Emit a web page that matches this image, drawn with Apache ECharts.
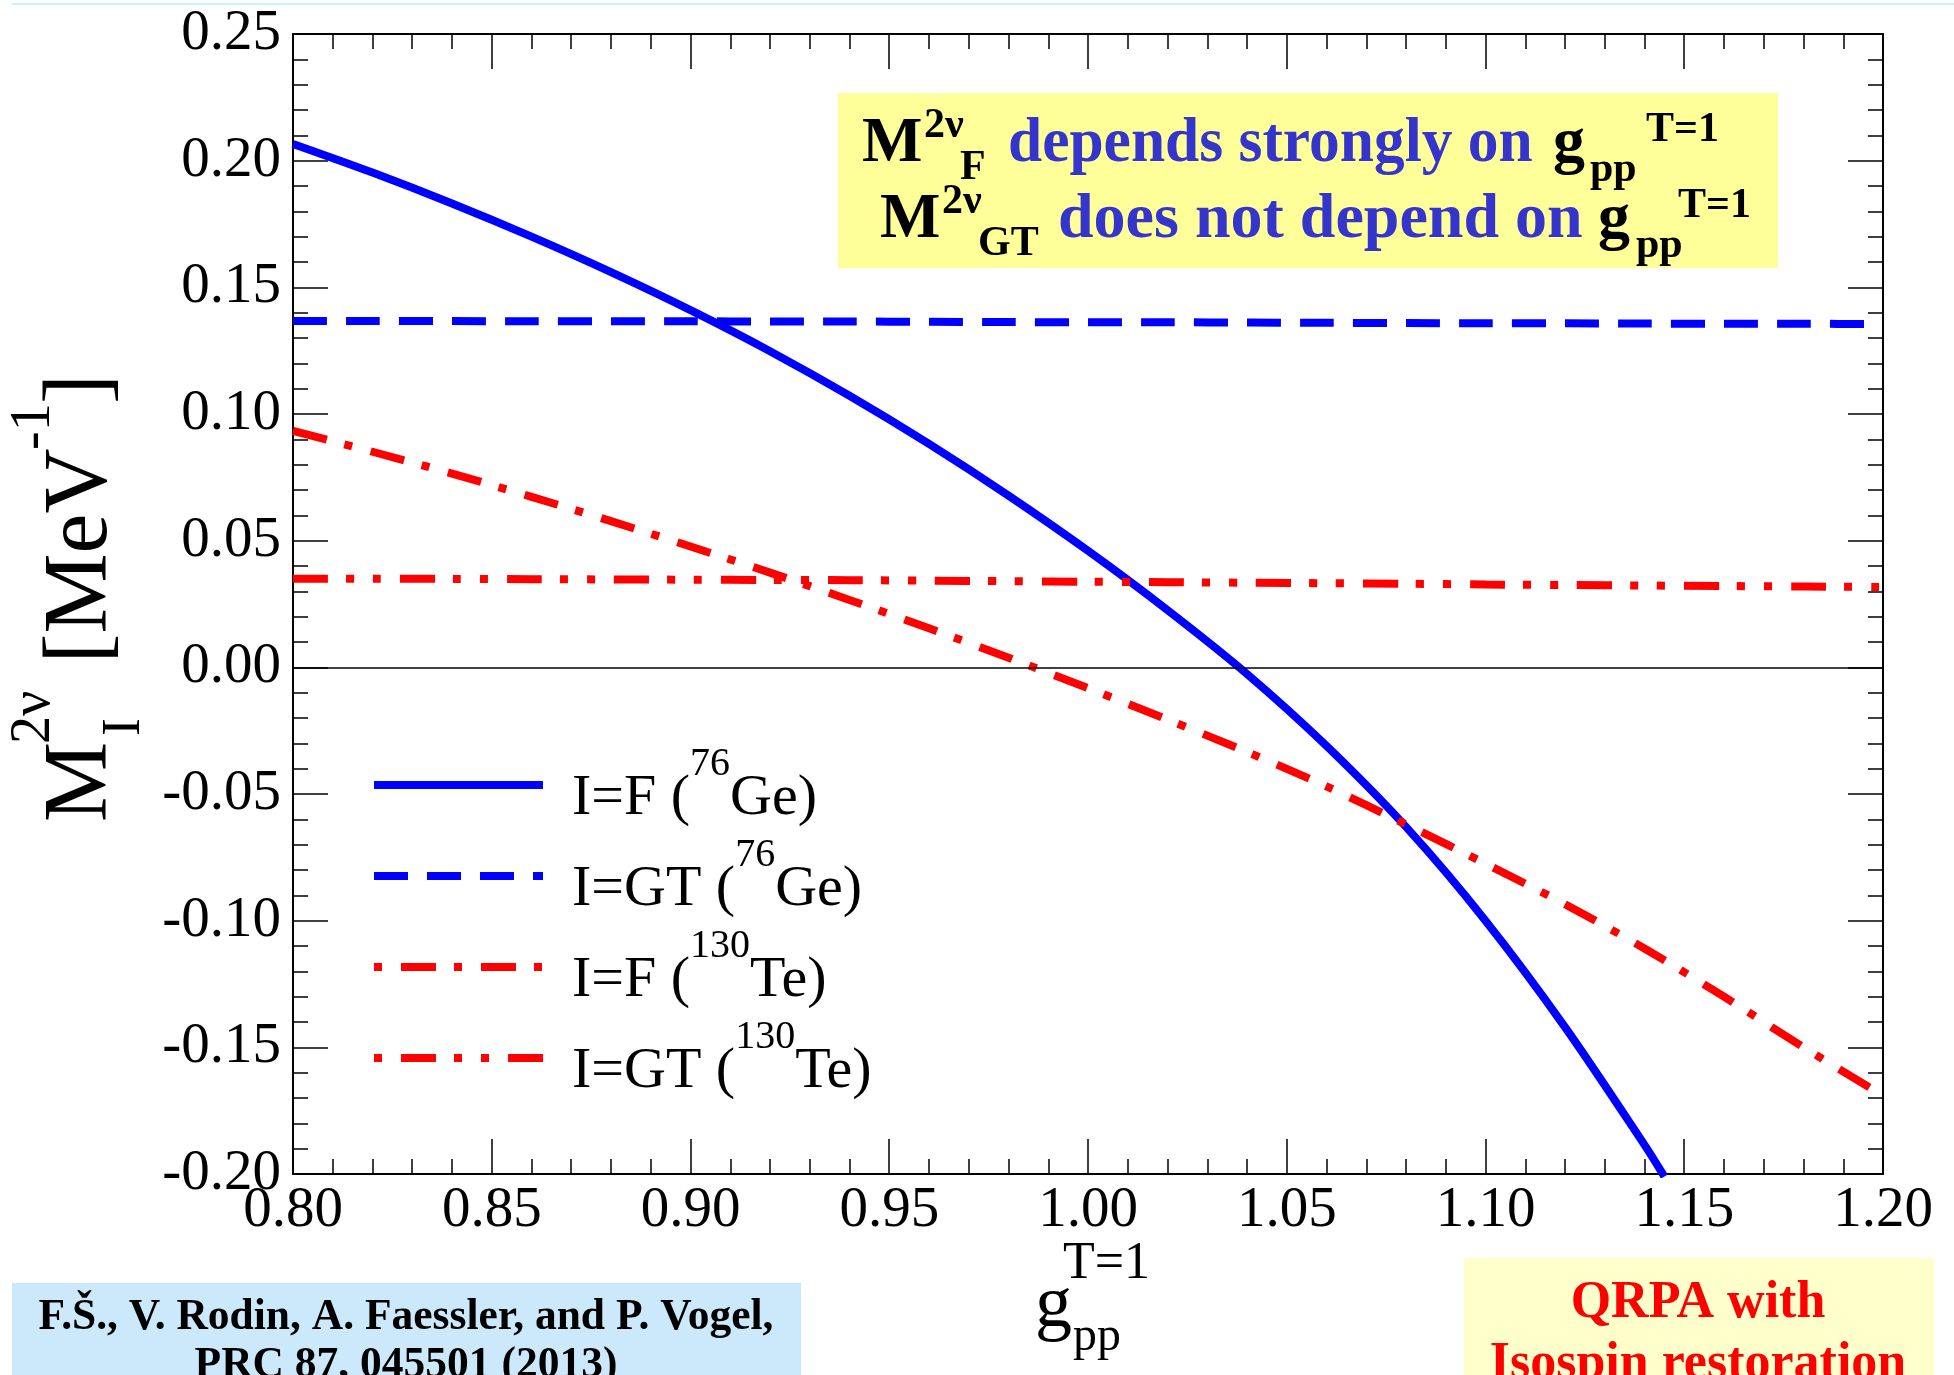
<!DOCTYPE html>
<html>
<head>
<meta charset="utf-8">
<title>M2nu vs gpp T=1</title>
<script src="https://cdn.jsdelivr.net/npm/echarts@6/dist/echarts.min.js"></script>
<style>
html, body { margin: 0; padding: 0; background: #fff; }
#main { width: 1954px; height: 1375px; }
</style>
</head>
<body>
<div id="main"></div>
<script>
// g_pp^{T=1} grid
var gGrid = [0.80, 0.82, 0.84, 0.86, 0.88, 0.90, 0.92, 0.94, 0.96, 0.98, 1.00,
             1.02, 1.04, 1.06, 1.08, 1.10, 1.12, 1.14, 1.16, 1.18, 1.20];
// I=F (76Ge) stops when it leaves the frame
var gF76 = [0.80, 0.82, 0.84, 0.86, 0.88, 0.90, 0.92, 0.94, 0.96, 0.98, 1.00,
            1.02, 1.04, 1.06, 1.08, 1.10, 1.12, 1.14, 1.145];
var mF76 = [0.2066, 0.1953, 0.1831, 0.1700, 0.1560, 0.1410, 0.1248, 0.1072, 0.0882, 0.0678, 0.0460,
            0.0226, -0.0026, -0.0310, -0.0630, -0.1000, -0.1420, -0.1885, -0.2010];
var mGT76 = [0.1367, 0.1367, 0.1367, 0.1366, 0.1366, 0.1366, 0.1365, 0.1365, 0.1364, 0.1363, 0.1362,
             0.1362, 0.1361, 0.1360, 0.1359, 0.1358, 0.1358, 0.1357, 0.1356, 0.1356, 0.1355];
var mF130 = [0.0933, 0.0851, 0.0765, 0.0673, 0.0577, 0.0477, 0.0374, 0.0266, 0.0154, 0.0038, -0.0082,
             -0.0206, -0.0334, -0.0470, -0.0620, -0.0775, -0.0935, -0.1110, -0.1300, -0.1500, -0.1690];
var mGT130 = [0.0350, 0.0350, 0.0349, 0.0348, 0.0347, 0.0346, 0.0345, 0.0344, 0.0342, 0.0340, 0.0338,
              0.0336, 0.0334, 0.0332, 0.0330, 0.0327, 0.0325, 0.0323, 0.0321, 0.0319, 0.0317];

var seriesNames = ['I=F (76Ge)', 'I=GT (76Ge)', 'I=F (130Te)', 'I=GT (130Te)'];
var legendHead = ['I=F (', 'I=GT (', 'I=F (', 'I=GT ('];
var legendMass = ['76', '76', '130', '130'];
var legendElem = ['Ge)', 'Ge)', 'Te)', 'Te)'];
var seriesColors = ['#0000ff', '#0000ff', '#ff0000', '#ff0000'];
var seriesDash = [[], [34, 19], [35, 18, 8, 19], [35, 18, 8, 19, 8, 19]];
var keyDashOffset = [0, 0, 53, 80];

var FONT = '"Liberation Serif"';

function pairs(xs, ys) {
    return xs.map(function (x, i) { return [x, ys[i]]; });
}

// text placed by its baseline
function txt(x, base, str, size, color, weight, align, sx) {
    var el = {
        type: 'text', x: x, y: base - 0.34 * size, silent: true,
        style: {
            text: str,
            font: (weight || 'normal') + ' ' + size + 'px ' + FONT,
            fill: color || '#000',
            align: align || 'left',
            verticalAlign: 'middle'
        }
    };
    if (sx) el.scaleX = sx;
    return el;
}

var tickLabel = {
    color: '#000',
    fontSize: 57,
    fontFamily: 'Liberation Serif',
    formatter: function (v) { return Math.abs(v) < 1e-9 ? '0.00' : v.toFixed(2); }
};

function xAx(pos, showLabel) {
    return {
        type: 'value', min: 0.8, max: 1.2, interval: 0.05, position: pos,
        axisLine: { onZero: false, lineStyle: { color: '#000', width: 2 } },
        axisTick: { inside: true, length: 35, lineStyle: { color: '#000', width: 1.5 } },
        minorTick: { show: true, splitNumber: 5, length: 15, lineStyle: { color: '#000', width: 1.5 } },
        splitLine: { show: false },
        axisLabel: showLabel ? Object.assign({ margin: 9 }, tickLabel) : { show: false }
    };
}

function yAx(pos, showLabel) {
    return {
        type: 'value', min: -0.2, max: 0.25, interval: 0.05, position: pos,
        axisLine: { onZero: false, lineStyle: { color: '#000', width: 2 } },
        axisTick: { inside: true, length: 35, lineStyle: { color: '#000', width: 1.5 } },
        minorTick: { show: true, splitNumber: 5, length: 15, lineStyle: { color: '#000', width: 1.5 } },
        splitLine: { show: false },
        axisLabel: showLabel ? Object.assign({ margin: 12 }, tickLabel) : { show: false }
    };
}

function curve(i, data) {
    return {
        name: seriesNames[i], type: 'line', data: data,
        xAxisIndex: 0, yAxisIndex: 0,
        symbol: 'none', showSymbol: false, smooth: 0.3,
        clip: true,
        lineStyle: { color: seriesColors[i], width: 8, type: seriesDash[i].length ? seriesDash[i] : 'solid' },
        itemStyle: { color: seriesColors[i] },
        z: 3
    };
}

// legend keys: drawn as plain line samples left of the legend labels
var legendRowY = [785, 876, 967, 1058];
var legendKeys = legendRowY.map(function (y, i) {
    return {
        type: 'line', silent: true,
        shape: { x1: 374, y1: y, x2: 543, y2: y },
        style: {
            stroke: seriesColors[i], lineWidth: 8,
            lineDash: seriesDash[i].length ? seriesDash[i] : null,
            lineDashOffset: keyDashOffset[i]
        }
    };
});

var myChart = echarts.init(document.getElementById('main'));

var option = {
    animation: false,
    backgroundColor: '#fff',
    grid: {
        left: 293, top: 34, width: 1590, height: 1140,
        containLabel: false, outerBoundsMode: 'none'
    },
    xAxis: [xAx('bottom', true), xAx('top', false)],
    yAxis: [yAx('left', true), yAx('right', false)],
    legend: {
        data: seriesNames,
        orient: 'vertical',
        left: 374, top: 744,
        padding: 0,
        icon: 'rect',
        itemWidth: 169, itemHeight: 8, itemGap: 7,
        itemStyle: { opacity: 0 },
        selectedMode: false,
        formatter: function (name) {
            var i = seriesNames.indexOf(name);
            return '{h|' + legendHead[i] + '}{s|' + legendMass[i] + '}{n|' + legendElem[i] + '}';
        },
        textStyle: {
            color: '#000',
            fontFamily: 'Liberation Serif',
            fontSize: 58,
            rich: {
                h: { fontSize: 58, lineHeight: 84, verticalAlign: 'bottom', fontFamily: 'Liberation Serif', padding: [0, 0, 0, 24] },
                s: { fontSize: 40, lineHeight: 40, verticalAlign: 'top', fontFamily: 'Liberation Serif' },
                n: { fontSize: 58, lineHeight: 84, verticalAlign: 'bottom', fontFamily: 'Liberation Serif' }
            }
        }
    },
    series: [
        curve(0, pairs(gF76, mF76)),
        curve(1, pairs(gGrid, mGT76)),
        curve(2, pairs(gGrid, mF130)),
        curve(3, pairs(gGrid, mGT130)),
        {
            name: 'zero', type: 'line', data: [], z: 2,
            markLine: {
                silent: true, symbol: 'none', label: { show: false },
                lineStyle: { color: '#000', width: 1.5, type: 'solid' },
                data: [{ yAxis: 0 }]
            }
        }
    ],
    graphic: [
        { type: 'line', silent: true, shape: { x1: 12, y1: 4, x2: 1954, y2: 4 }, style: { stroke: '#cdeefb', lineWidth: 2 } },

        // statement box
        { type: 'rect', silent: true, shape: { x: 838, y: 93, width: 940, height: 175 }, style: { fill: '#ffff99' } },
        txt(862, 166, 'M', 64, '#000', 'bold'),
        txt(924, 140, '2ν', 42, '#000', 'bold'),
        txt(960, 182, 'F', 42, '#000', 'bold'),
        txt(1008, 166, 'depends strongly on', 64, '#3535cc', 'bold', 'left', 0.96),
        txt(1553, 166, 'g', 64, '#000', 'bold'),
        txt(1590, 184, 'pp', 42, '#000', 'bold'),
        txt(1646, 144, 'T=1', 42, '#000', 'bold'),

        txt(880, 242, 'M', 64, '#000', 'bold'),
        txt(942, 216, '2ν', 42, '#000', 'bold'),
        txt(978, 258, 'GT', 42, '#000', 'bold'),
        txt(1058, 242, 'does not depend on', 64, '#3535cc', 'bold'),
        txt(1598, 242, 'g', 64, '#000', 'bold'),
        txt(1636, 260, 'pp', 42, '#000', 'bold'),
        txt(1678, 220, 'T=1', 42, '#000', 'bold'),

        // y axis title
        {
            type: 'group', x: 113, y: 822, rotation: Math.PI / 2, silent: true,
            children: [
                txt(0, 0, 'M', 90),
                txt(78, -60, '2ν', 56),
                txt(86, 30, 'I', 54),
                txt(136, 0, ' [MeV', 90),
                txt(372, -60, '-1', 56),
                txt(418, 0, ']', 90)
            ]
        },

        // x axis title
        txt(1063, 1282, 'T=1', 52),
        txt(1035, 1332, 'g', 74),
        txt(1073, 1354, 'pp', 48),

        // reference box
        { type: 'rect', silent: true, shape: { x: 12, y: 1283, width: 789, height: 100 }, style: { fill: '#cce9fb' } },
        txt(406, 1333, 'F.Š., V. Rodin, A. Faessler, and P. Vogel,', 43.5, '#000', 'bold', 'center'),
        txt(406, 1381, 'PRC 87, 045501 (2013)', 43.5, '#000', 'bold', 'center'),

        // method box
        { type: 'rect', silent: true, shape: { x: 1464, y: 1258, width: 470, height: 125 }, style: { fill: '#ffffcc' } },
        txt(1698, 1321, 'QRPA with', 52, '#ff0000', 'bold', 'center'),
        txt(1698, 1382, 'Isospin restoration', 52, '#ff0000', 'bold', 'center')
    ].concat(legendKeys)
};

myChart.setOption(option);
window.addEventListener('resize', function () {
    myChart.resize();
});
</script>
</body>
</html>
